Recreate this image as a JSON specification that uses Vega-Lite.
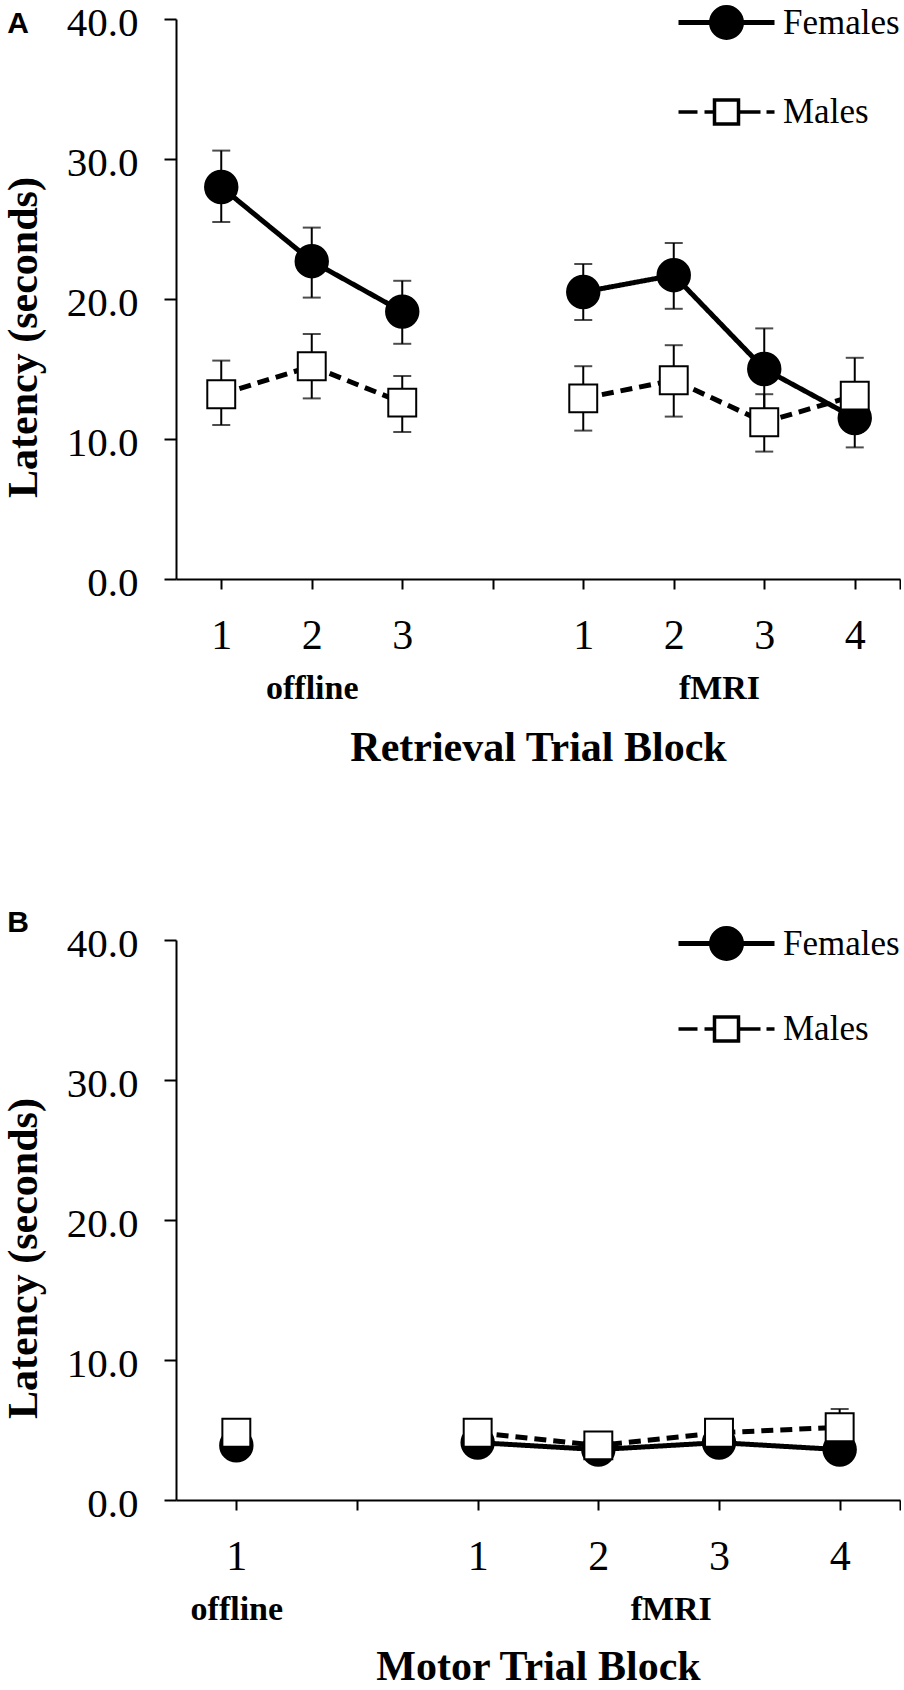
{
  "$schema": "https://vega.github.io/schema/vega-lite/v6.json",
  "background": "white",
  "padding": {"left": 2, "top": 0, "right": 0, "bottom": 0},
  "datasets": {
    "retrieval": [
      {"pos": 1, "grp": "offline", "sex": "Females", "mean": 28.0, "lo": 25.5, "hi": 30.6},
      {"pos": 2, "grp": "offline", "sex": "Females", "mean": 22.7, "lo": 20.1, "hi": 25.1},
      {"pos": 3, "grp": "offline", "sex": "Females", "mean": 19.1, "lo": 16.8, "hi": 21.3},
      {"pos": 5, "grp": "fMRI", "sex": "Females", "mean": 20.5, "lo": 18.5, "hi": 22.5},
      {"pos": 6, "grp": "fMRI", "sex": "Females", "mean": 21.7, "lo": 19.3, "hi": 24.0},
      {"pos": 7, "grp": "fMRI", "sex": "Females", "mean": 15.0, "lo": 12.1, "hi": 17.9},
      {"pos": 8, "grp": "fMRI", "sex": "Females", "mean": 11.5, "lo": 9.4, "hi": 13.6},
      {"pos": 1, "grp": "offline", "sex": "Males", "mean": 13.2, "lo": 11.0, "hi": 15.6},
      {"pos": 2, "grp": "offline", "sex": "Males", "mean": 15.2, "lo": 12.9, "hi": 17.5},
      {"pos": 3, "grp": "offline", "sex": "Males", "mean": 12.6, "lo": 10.5, "hi": 14.5},
      {"pos": 5, "grp": "fMRI", "sex": "Males", "mean": 12.9, "lo": 10.6, "hi": 15.2},
      {"pos": 6, "grp": "fMRI", "sex": "Males", "mean": 14.2, "lo": 11.6, "hi": 16.7},
      {"pos": 7, "grp": "fMRI", "sex": "Males", "mean": 11.2, "lo": 9.1, "hi": 13.2},
      {"pos": 8, "grp": "fMRI", "sex": "Males", "mean": 13.1, "lo": 10.5, "hi": 15.8}
    ],
    "motor": [
      {"pos": 1, "grp": "offline", "sex": "Females", "mean": 3.9, "lo": 3.5, "hi": 4.3},
      {"pos": 3, "grp": "fMRI", "sex": "Females", "mean": 4.1, "lo": 3.7, "hi": 4.5},
      {"pos": 4, "grp": "fMRI", "sex": "Females", "mean": 3.6, "lo": 3.2, "hi": 4.0},
      {"pos": 5, "grp": "fMRI", "sex": "Females", "mean": 4.1, "lo": 3.7, "hi": 4.5},
      {"pos": 6, "grp": "fMRI", "sex": "Females", "mean": 3.6, "lo": 3.2, "hi": 4.0},
      {"pos": 1, "grp": "offline", "sex": "Males", "mean": 4.8, "lo": 4.3, "hi": 5.3},
      {"pos": 3, "grp": "fMRI", "sex": "Males", "mean": 4.8, "lo": 4.3, "hi": 5.3},
      {"pos": 4, "grp": "fMRI", "sex": "Males", "mean": 3.9, "lo": 3.5, "hi": 4.3},
      {"pos": 5, "grp": "fMRI", "sex": "Males", "mean": 4.8, "lo": 4.3, "hi": 5.3},
      {"pos": 6, "grp": "fMRI", "sex": "Males", "mean": 5.2, "lo": 3.9, "hi": 6.5}
    ]
  },
  "spacing": 140,
  "vconcat": [
    {
      "title": {"text": "A", "anchor": "start", "frame": "bounds", "font": "Liberation Sans", "fontSize": 30, "fontWeight": "bold", "color": "black", "offset": 0, "dy": 39, "dx": 5},
      "width": 724,
      "height": 560,
      "data": {"name": "retrieval"},
      "resolve": {
        "axis": {"x": "independent"},
        "scale": {"shape": "independent", "fill": "independent", "stroke": "independent", "size": "independent", "strokeWidth": "independent", "strokeDash": "independent"},
        "legend": {"shape": "independent", "fill": "independent", "stroke": "independent", "size": "independent", "strokeWidth": "independent", "strokeDash": "independent"}
      },
      "layer": [
        {
          "mark": {"type": "rule", "color": "black", "strokeWidth": 2},
          "encoding": {
            "x": {
              "field": "pos", "type": "quantitative",
              "scale": {"domain": [0.5, 8.5], "nice": false, "zero": false},
              "axis": {
                "orient": "bottom", "title": null,
                "values": [1, 2, 3, 4, 5, 6, 7, 8, 8.5],
                "labelExpr": "datum.value == 4 || datum.value > 8 ? '' : datum.value > 4 ? format(datum.value - 4, 'd') : format(datum.value, 'd')",
                "labelFontSize": 42, "tickSize": 10, "labelPadding": 26, "labelOverlap": false, "labelFlush": false
              }
            },
            "y": {
              "field": "lo", "type": "quantitative", "title": "Latency (seconds)",
              "scale": {"domain": [0, 40], "nice": false},
              "axis": {"values": [0, 10, 20, 30, 40], "format": ".1f", "labelFontSize": 41, "labelOffset": 4, "tickSize": 12, "labelPadding": 26, "labelOverlap": false, "titleFontSize": 42, "titleFontWeight": "bold", "titlePadding": 21, "titleY": 318}
            },
            "y2": {"field": "hi"}
          }
        },
        {
          "mark": {"type": "tick", "orient": "horizontal", "color": "black", "size": 18, "thickness": 2},
          "encoding": {
            "x": {"field": "pos", "type": "quantitative", "axis": null},
            "y": {"field": "hi", "type": "quantitative", "title": "Latency (seconds)"}
          }
        },
        {
          "mark": {"type": "tick", "orient": "horizontal", "color": "black", "size": 18, "thickness": 2},
          "encoding": {
            "x": {"field": "pos", "type": "quantitative", "axis": null},
            "y": {"field": "lo", "type": "quantitative", "title": "Latency (seconds)"}
          }
        },
        {
          "mark": {"type": "line", "color": "black", "strokeWidth": 5},
          "encoding": {
            "x": {"field": "pos", "type": "quantitative", "axis": null},
            "y": {"field": "mean", "type": "quantitative", "title": "Latency (seconds)"},
            "detail": {"field": "grp"},
            "strokeDash": {"field": "sex", "type": "nominal", "scale": {"domain": ["Females", "Males"], "range": [[1, 0], [12, 7]]}, "legend": null}
          }
        },
        {
          "mark": {"type": "point", "filled": true, "opacity": 1, "stroke": "black", "strokeWidth": 2},
          "encoding": {
            "x": {
              "field": "pos", "type": "quantitative",
              "axis": {
                "orient": "bottom", "values": [2, 6.5],
                "labelExpr": "datum.value < 4 ? 'offline' : 'fMRI'",
                "domain": false, "ticks": false, "tickSize": 0,
                "labelFontSize": 34, "labelFontWeight": "bold", "labelBaseline": "alphabetic", "labelPadding": 119, "labelOverlap": false, "labelFlush": false,
                "title": "Retrieval Trial Block", "titleFontSize": 42, "titleFontWeight": "bold", "titlePadding": 22
              }
            },
            "y": {"field": "mean", "type": "quantitative", "title": "Latency (seconds)"},
            "shape": {"field": "sex", "type": "nominal", "scale": {"domain": ["Females", "Males"], "range": ["circle", "square"]}, "legend": null},
            "fill": {"field": "sex", "type": "nominal", "scale": {"domain": ["Females", "Males"], "range": ["black", "white"]}, "legend": null},
            "size": {"field": "sex", "type": "nominal", "scale": {"domain": ["Females", "Males"], "range": [1050, 780]}, "legend": null}
          }
        },
        {
          "transform": [{"filter": "false"}],
          "mark": {"type": "point", "filled": true, "opacity": 1, "size": 1600},
          "encoding": {
            "shape": {
              "field": "sex", "type": "nominal",
              "scale": {"domain": ["Females", "Males"], "range": ["M-2.4,0H2.4M-0.75,0A0.75,0.75,0,1,0,0.75,0A0.75,0.75,0,1,0,-0.75,0Z", "M-2.4,0H-1.45M-1.1,0H-0.6M-0.6,-0.6H0.6V0.6H-0.6ZM0.6,0H1.7M2,0H2.4"]},
              "legend": {"orient": "none", "legendX": 528, "legendY": -19, "padding": 0, "title": null, "symbolSize": 1600, "symbolStrokeColor": "black", "labelFontSize": 35, "labelOffset": 34, "rowPadding": 42}
            },
            "fill": {"field": "sex", "type": "nominal", "scale": {"domain": ["Females", "Males"], "range": ["black", "white"]}},
            "stroke": {"field": "sex", "type": "nominal", "scale": {"domain": ["Females", "Males"], "range": ["black", "black"]}},
            "strokeWidth": {"field": "sex", "type": "ordinal", "scale": {"domain": ["Females", "Males"], "range": [5, 3.5]}}
          }
        }
      ]
    },
    {
      "title": {"text": "B", "anchor": "start", "frame": "bounds", "font": "Liberation Sans", "fontSize": 30, "fontWeight": "bold", "color": "black", "offset": 0, "dy": 17, "dx": 5},
      "width": 724,
      "height": 560,
      "data": {"name": "motor"},
      "resolve": {
        "axis": {"x": "independent"},
        "scale": {"shape": "independent", "fill": "independent", "stroke": "independent", "size": "independent", "strokeWidth": "independent", "strokeDash": "independent"},
        "legend": {"shape": "independent", "fill": "independent", "stroke": "independent", "size": "independent", "strokeWidth": "independent", "strokeDash": "independent"}
      },
      "layer": [
        {
          "mark": {"type": "rule", "color": "black", "strokeWidth": 2},
          "encoding": {
            "x": {
              "field": "pos", "type": "quantitative",
              "scale": {"domain": [0.5, 6.5], "nice": false, "zero": false},
              "axis": {
                "orient": "bottom", "title": null,
                "values": [1, 2, 3, 4, 5, 6, 6.5],
                "labelExpr": "datum.value == 2 || datum.value > 6 ? '' : datum.value > 2 ? format(datum.value - 2, 'd') : format(datum.value, 'd')",
                "labelFontSize": 42, "tickSize": 10, "labelPadding": 26, "labelOverlap": false, "labelFlush": false
              }
            },
            "y": {
              "field": "lo", "type": "quantitative", "title": "Latency (seconds)",
              "scale": {"domain": [0, 40], "nice": false},
              "axis": {"values": [0, 10, 20, 30, 40], "format": ".1f", "labelFontSize": 41, "labelOffset": 4, "tickSize": 12, "labelPadding": 26, "labelOverlap": false, "titleFontSize": 42, "titleFontWeight": "bold", "titlePadding": 21, "titleY": 318}
            },
            "y2": {"field": "hi"}
          }
        },
        {
          "mark": {"type": "tick", "orient": "horizontal", "color": "black", "size": 18, "thickness": 2},
          "encoding": {
            "x": {"field": "pos", "type": "quantitative", "axis": null},
            "y": {"field": "hi", "type": "quantitative", "title": "Latency (seconds)"}
          }
        },
        {
          "mark": {"type": "tick", "orient": "horizontal", "color": "black", "size": 18, "thickness": 2},
          "encoding": {
            "x": {"field": "pos", "type": "quantitative", "axis": null},
            "y": {"field": "lo", "type": "quantitative", "title": "Latency (seconds)"}
          }
        },
        {
          "mark": {"type": "line", "color": "black", "strokeWidth": 5},
          "encoding": {
            "x": {"field": "pos", "type": "quantitative", "axis": null},
            "y": {"field": "mean", "type": "quantitative", "title": "Latency (seconds)"},
            "detail": {"field": "grp"},
            "strokeDash": {"field": "sex", "type": "nominal", "scale": {"domain": ["Females", "Males"], "range": [[1, 0], [12, 7]]}, "legend": null}
          }
        },
        {
          "mark": {"type": "point", "filled": true, "opacity": 1, "stroke": "black", "strokeWidth": 2},
          "encoding": {
            "x": {
              "field": "pos", "type": "quantitative",
              "axis": {
                "orient": "bottom", "values": [1, 4.6],
                "labelExpr": "datum.value < 2 ? 'offline' : 'fMRI'",
                "domain": false, "ticks": false, "tickSize": 0,
                "labelFontSize": 34, "labelFontWeight": "bold", "labelBaseline": "alphabetic", "labelPadding": 119, "labelOverlap": false, "labelFlush": false,
                "title": "Motor Trial Block", "titleFontSize": 42, "titleFontWeight": "bold", "titlePadding": 20
              }
            },
            "y": {"field": "mean", "type": "quantitative", "title": "Latency (seconds)"},
            "shape": {"field": "sex", "type": "nominal", "scale": {"domain": ["Females", "Males"], "range": ["circle", "square"]}, "legend": null},
            "fill": {"field": "sex", "type": "nominal", "scale": {"domain": ["Females", "Males"], "range": ["black", "white"]}, "legend": null},
            "size": {"field": "sex", "type": "nominal", "scale": {"domain": ["Females", "Males"], "range": [1050, 780]}, "legend": null}
          }
        },
        {
          "transform": [{"filter": "false"}],
          "mark": {"type": "point", "filled": true, "opacity": 1, "size": 1600},
          "encoding": {
            "shape": {
              "field": "sex", "type": "nominal",
              "scale": {"domain": ["Females", "Males"], "range": ["M-2.4,0H2.4M-0.75,0A0.75,0.75,0,1,0,0.75,0A0.75,0.75,0,1,0,-0.75,0Z", "M-2.4,0H-1.45M-1.1,0H-0.6M-0.6,-0.6H0.6V0.6H-0.6ZM0.6,0H1.7M2,0H2.4"]},
              "legend": {"orient": "none", "legendX": 528, "legendY": -19, "padding": 0, "title": null, "symbolSize": 1600, "symbolStrokeColor": "black", "labelFontSize": 35, "labelOffset": 34, "rowPadding": 38}
            },
            "fill": {"field": "sex", "type": "nominal", "scale": {"domain": ["Females", "Males"], "range": ["black", "white"]}},
            "stroke": {"field": "sex", "type": "nominal", "scale": {"domain": ["Females", "Males"], "range": ["black", "black"]}},
            "strokeWidth": {"field": "sex", "type": "ordinal", "scale": {"domain": ["Females", "Males"], "range": [5, 3.5]}}
          }
        }
      ]
    }
  ],
  "resolve": {
    "scale": {"x": "independent", "y": "independent", "shape": "independent", "fill": "independent", "stroke": "independent", "size": "independent", "strokeWidth": "independent", "strokeDash": "independent"},
    "legend": {"shape": "independent", "fill": "independent", "stroke": "independent", "size": "independent", "strokeWidth": "independent", "strokeDash": "independent"}
  },
  "config": {
    "font": "Liberation Serif",
    "view": {"stroke": null},
    "axis": {"grid": false, "domainColor": "black", "domainWidth": 2, "tickColor": "black", "tickWidth": 2, "labelColor": "black", "titleColor": "black", "labelFont": "Liberation Serif", "titleFont": "Liberation Serif"},
    "legend": {"labelFont": "Liberation Serif", "labelColor": "black"}
  }
}
